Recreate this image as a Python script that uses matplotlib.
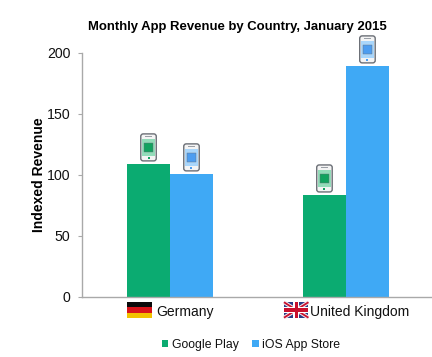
import matplotlib
matplotlib.use("Agg")
import matplotlib.pyplot as plt
from matplotlib.patches import Rectangle, FancyBboxPatch
from matplotlib.transforms import Affine2D, ScaledTranslation

plt.rcParams['font.family'] = ['Liberation Sans', 'DejaVu Sans']

countries = ["Germany", "United Kingdom"]
google_play = [108.5, 83]
ios_store = [100.3, 189]
y_ticks = [0, 50, 100, 150, 200]

GREEN = "#0bab71"
BLUE = "#3fa9f5"
GREY = "#a9a9a9"
W, H = 432, 357
DPI = 100

fig = plt.figure(figsize=(W / DPI, H / DPI), dpi=DPI, facecolor="white")
ax = fig.add_axes([81.5 / W, (H - 296.5) / H, (W - 81.5) / W, 243.5 / H])
BAR_W = 43 / 176
xs = list(range(len(countries)))
ax.bar([x - BAR_W / 2 for x in xs], google_play, BAR_W, color=GREEN, label="Google Play")
ax.bar([x + BAR_W / 2 for x in xs], ios_store, BAR_W, color=BLUE, label="iOS App Store")
ax.set_xlim(-0.503, 1.489)
ax.set_ylim(0, 200)

for s in ("top", "right"):
    ax.spines[s].set_visible(False)
for s in ("left", "bottom"):
    ax.spines[s].set_color(GREY)
    ax.spines[s].set_linewidth(1.0)

ax.set_yticks(y_ticks)
ax.tick_params(axis="y", length=3, width=0.8, color=GREY, labelsize=10.2, pad=5, labelcolor="#111111")
ax.set_xticks(xs, countries)
ax.tick_params(axis="x", length=0, labelsize=10, pad=6.3, labelcolor="#111111")
for lab, dx in zip(ax.get_xticklabels(), (15, 14)):
    lab.set_transform(lab.get_transform() + Affine2D().translate(dx, 0))

ax.set_ylabel("Indexed Revenue", fontweight="bold", fontsize=10, labelpad=0.5)
ax.set_title("Monthly App Revenue by Country, January 2015", fontweight="bold",
             fontsize=9.45, x=0.4455, pad=16.3)


def px_at(x, y, dx=0, dy=0):
    """Pixel-unit transform anchored at a data point."""
    return Affine2D().translate(dx, dy) + ScaledTranslation(x, y, ax.transData)


def add(p):
    p.set_clip_on(False)
    ax.add_artist(p)


def phone(x, v, tint, core, edge):
    t = px_at(x, v, 0, 3.5)
    w, h = 15.5, 27
    add(FancyBboxPatch((-w / 2 + 1, 1), w - 2, h - 2, boxstyle="round,pad=1,rounding_size=2.5",
                       fc="#f4f4f4", ec=edge, lw=1.0, transform=t, zorder=4))
    add(Rectangle((-w / 2 + 1.2, 5), w - 2.4, h - 10, fc=tint, ec="none", transform=t, zorder=5))
    add(Rectangle((-4.2, h / 2 - 4.2), 8.4, 8.8, fc=core, ec=edge, lw=0.3, transform=t, zorder=6))
    add(Rectangle((-3.5, h - 3.5), 7, 1, fc="#9a9fa6", ec="none", transform=t, zorder=6))
    add(Rectangle((-1, 1.8), 2, 2, fc=core, ec="none", transform=t, zorder=6))


for x, g, i in zip(xs, google_play, ios_store):
    phone(x - BAR_W / 2, g, "#93dcb9", "#12a25f", "#6b6f76")
    phone(x + BAR_W / 2, i, "#a9d6fb", "#4d9df0", "#6b6f76")


def german(x):
    t = px_at(x, 0, -43, -21.2)
    for k, col in enumerate(("#f2c200", "#d8131a", "#0a0a0a")):
        add(Rectangle((0, k * 5.2), 25, 5.2, fc=col, ec="none", transform=t, zorder=3))


def british(x):
    t = px_at(x, 0, -62, -21.2)
    w, h = 24.5, 15.5
    add(Rectangle((0, 0), w, h, fc="#2a3a85", ec="none", transform=t, zorder=3))
    for a, b, c, d in [(0, 0, w, h), (0, h, w, 0)]:
        for col, lw, z in (("#f3e6ea", 2.8, 3.1), ("#c8102e", 1.3, 3.2)):
            line = plt.Line2D([a, c], [b, d], color=col, lw=lw, transform=t, zorder=z, solid_capstyle="butt")
            ax.add_artist(line)
            line.set_clip_on(False)
    add(Rectangle((0, h / 2 - 2.8), w, 5.6, fc="white", ec="none", transform=t, zorder=3.3))
    add(Rectangle((w / 2 - 2.8, 0), 5.6, h, fc="white", ec="none", transform=t, zorder=3.3))
    add(Rectangle((0, h / 2 - 1.7), w, 3.4, fc="#c8102e", ec="none", transform=t, zorder=3.4))
    add(Rectangle((w / 2 - 1.7, 0), 3.4, h, fc="#c8102e", ec="none", transform=t, zorder=3.4))


german(xs[0])
british(xs[1])

fig.legend(loc="center", bbox_to_anchor=(251 / W, (H - 345) / H), ncol=2, frameon=False,
           fontsize=8.8, handlelength=0.55, handleheight=0.55, handletextpad=0.3,
           columnspacing=1.05, borderpad=0, labelcolor="#111111")

fig.savefig("out.png", dpi=DPI)
